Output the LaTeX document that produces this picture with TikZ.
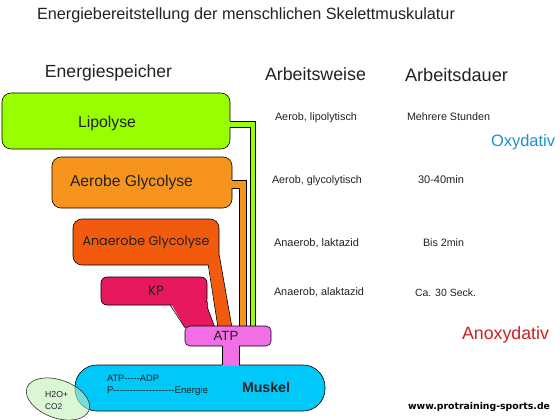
\documentclass[tikz,border=0pt]{standalone}
\usepackage{fontspec}
\setmainfont{Liberation Sans}
\newfontfamily\geofont{Poppins}
\newfontfamily\vfont{DejaVu Sans}
\usetikzlibrary{calc}
\pgfdeclarelayer{bglines}
\pgfdeclarelayer{bars}
\pgfdeclarelayer{top}
\pgfsetlayers{bglines,main,bars,top}

\definecolor{lipc}{HTML}{99FF00}
\definecolor{aerc}{HTML}{F7941D}
\definecolor{anac}{HTML}{F25A0E}
\definecolor{kpc}{HTML}{E8185E}
\definecolor{atpc}{HTML}{F26EE4}
\definecolor{musc}{HTML}{00C8F8}
\definecolor{h2oc}{HTML}{C4F0B8}
\definecolor{oxyc}{HTML}{1E8FD6}
\definecolor{anoxc}{HTML}{CC2222}
\definecolor{txtc}{HTML}{222222}

\newlength\fitlen
\newcommand\fitw[2]{\settowidth\fitlen{\fontsize{10pt}{12pt}\selectfont #2}%
\pgfmathsetmacro\fitsize{10*#1/\fitlen}%
\fontsize{\fitsize pt}{\fitsize pt}\selectfont #2}
\newcommand\hy{\mbox{-}}

\tikzset{
  box/.style={draw=black, line width=0.6pt, rounded corners=9pt, inner sep=0pt},
  txt/.style={inner sep=0pt, text=txtc},
  outl/.style={draw=black, line width=0.6pt},
  divider/.style={draw=black, line width=0.8pt}
}

\begin{document}
\begin{tikzpicture}[x=1pt,y=-1pt]
\useasboundingbox (0,0) rectangle (560,420);
\fill[white] (0,0) rectangle (560,420);

% boxes
\node[box, fill=lipc, minimum width=228, minimum height=56] (lip) at (116,121) {};
\node[box, fill=aerc, minimum width=180, minimum height=51] (aer) at (142,182.5) {};
\node[box, fill=anac, minimum width=146, minimum height=46] (ana) at (146,242) {};
\node[box, fill=kpc, minimum width=106, minimum height=28, rounded corners=6pt] (kp) at (154,291) {};

\begin{pgfonlayer}{top}
\node[box, fill=atpc, minimum width=86, minimum height=20, rounded corners=5pt] (atp) at (228,336) {};
\node[box, fill=musc, minimum width=250, minimum height=46, rounded corners=22pt] (musk) at (200,388) {};
\end{pgfonlayer}

% divider lines
\begin{pgfonlayer}{bglines}
\draw[divider] (0,216) -- (555,216);
\draw[divider] (37,271) -- (335,271);
\end{pgfonlayer}

\begin{pgfonlayer}{bars}
% green bar from Lipolyse
\fill[lipc] ($(lip.east)+(-2,0)$) -- ($(lip.east)+(25,0)$) -- ($(lip.east |- atp.north)+(25,2)$)
  -- ($(lip.east |- atp.north)+(20,2)$) -- ($(lip.east)+(20,6)$) -- ($(lip.east)+(-2,6)$) -- cycle;
\draw[outl] ($(lip.east)+(0,0)$) -- ($(lip.east)+(25,0)$) -- ($(lip.east |- atp.north)+(25,2)$);
\draw[outl] ($(lip.east |- atp.north)+(20,2)$) -- ($(lip.east)+(20,6)$) -- ($(lip.east)+(0,6)$);
% orange bar from Aerobe Glycolyse
\fill[aerc] ($(aer.east)+(-2,-2.5)$) -- ($(aer.east)+(14,-2.5)$) -- ($(aer.east |- atp.north)+(14,2)$)
  -- ($(aer.east |- atp.north)+(7,2)$) -- ($(aer.east)+(7,5.5)$) -- ($(aer.east)+(-2,5.5)$) -- cycle;
\draw[outl] ($(aer.east)+(0,-2.5)$) -- ($(aer.east)+(14,-2.5)$) -- ($(aer.east |- atp.north)+(14,2)$);
\draw[outl] ($(aer.east |- atp.north)+(7,2)$) -- ($(aer.east)+(7,5.5)$) -- ($(aer.east)+(0,5.5)$);
% tail of Anaerobe Glycolyse
\fill[anac] ($(ana.south east)+(-11,-3)$) -- ($(ana.south east)+(0,-10)$) -- ($(atp.north)+(4,2)$) -- ($(atp.north)+(-10,2)$) -- cycle;
\draw[outl] ($(ana.south east)+(-11,0)$) -- ($(atp.north)+(-10,2)$);
\draw[outl] ($(ana.south east)+(0,-10)$) -- ($(atp.north)+(4,2)$);
% tail of KP
\fill[kpc] ($(kp.south east)+(-37,-3)$) -- ($(kp.south east)+(0,-3)$) -- ($(kp.south east)+(0,2)$) -- ($(atp.north)+(-13,2)$) -- ($(atp.north)+(-43,2)$) -- cycle;
\draw[outl] ($(kp.south east)+(-37,0)$) -- ($(atp.north)+(-43,2)$);
\draw[outl] ($(kp.south east)+(0,-4)$) -- ($(kp.south east)+(0,2)$) -- ($(atp.north)+(-13,2)$);
\end{pgfonlayer}

\begin{pgfonlayer}{top}
% stem ATP -> Muskel
\fill[atpc] ($(atp.south)+(-6,-1)$) rectangle ($(atp.south |- musk.north)+(11,1)$);
\draw[outl] ($(atp.south)+(-6,0)$) -- ($(atp.south |- musk.north)+(-6,0)$);
\draw[outl] ($(atp.south)+(11,0)$) -- ($(atp.south |- musk.north)+(11,0)$);
% H2O ellipse
\path[draw=black!80, line width=0.6pt, fill=h2oc, fill opacity=0.6] (58,399) ellipse[x radius=33, y radius=19, rotate=-20];
\node[txt, anchor=west] (h2o) at (45,394) {\fitw{23}{H2O+}};
\node[txt, anchor=west] (co2) at (45,407) {\fitw{17}{CO2}};
% texts in boxes
\node[txt] (atpt) at (226,336) {\fitw{25}{ATP}};
\node[txt] (muskt) at (266,387) {\fitw{48}{\bfseries Muskel}};
\node[txt] (eq1) at (133,378) {\fitw{52}{ATP\hy\hy\hy\hy\hy ADP}};
\node[txt] (eq2) at (157.5,391) {\fitw{101}{P\hy\hy\hy\hy\hy\hy\hy\hy\hy\hy\hy\hy\hy\hy\hy\hy\hy\hy\hy Energie}};
\end{pgfonlayer}

\node[txt] (lipt) at (107,123) {\fitw{58}{Lipolyse}};
\node[txt] (aert) at (131.5,182) {\fitw{123}{Aerobe Glycolyse}};
\node[txt] (anat) at (146,242) {\fitw{127}{\geofont Anaerobe Glycolyse}};
\node[txt] (kpt) at (156,291) {\fitw{16}{\geofont KP}};

% title and headers
\node[txt] (title) at (246,15) {\fitw{418}{Energiebereitstellung der menschlichen Skelettmuskulatur}};
\node[txt] (h1) at (108.5,73) {\fitw{127}{Energiespeicher}};
\node[txt] (h2) at (315.5,74) {\fitw{101}{Arbeitsweise}};
\node[txt] (h3) at (456.5,75) {\fitw{103}{Arbeitsdauer}};

% right columns
\node[txt] (w1) at (316,118) {\fitw{82}{Aerob, lipolytisch}};
\node[txt] (d1) at (448.5,117) {\fitw{83}{Mehrere Stunden}};
\node[txt] (w2) at (317,181) {\fitw{90}{Aerob, glycolytisch}};
\node[txt] (d2) at (441,180) {\fitw{46}{30\hy 40min}};
\node[txt] (w3) at (316.5,243) {\fitw{85}{Anaerob, laktazid}};
\node[txt] (d3) at (443.5,243) {\fitw{41}{Bis 2min}};
\node[txt] (w4) at (319,292) {\fitw{90}{Anaerob, alaktazid}};
\node[txt] (d4) at (445.5,293) {\fitw{61}{Ca. 30 Seck.}};
\node[txt, text=oxyc] (oxy) at (523,142) {\fitw{64}{Oxydativ}};
\node[txt, text=anoxc] (anox) at (505.5,335) {\fitw{87}{Anoxydativ}};
\node[txt, text=black] (web) at (479,407) {\fitw{142}{\vfont\bfseries www.protraining\hy sports.de}};
\end{tikzpicture}
\end{document}
